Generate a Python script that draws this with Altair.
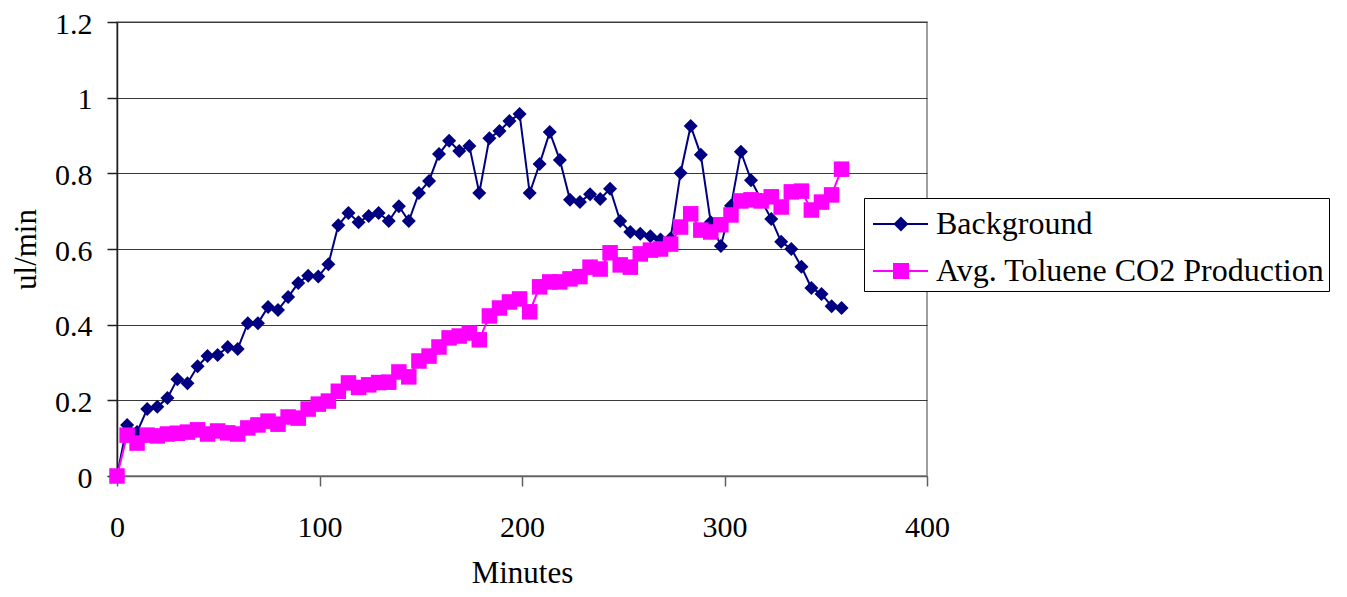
import altair as alt
import pandas as pd

# sampling times (minutes) and the two measured series (ul/min)
minutes = [
    0, 5.0, 9.9, 14.9, 19.9, 24.9, 29.8, 34.8, 39.8, 44.7,
    49.7, 54.7, 59.6, 64.6, 69.6, 74.6, 79.5, 84.5, 89.5, 94.4,
    99.4, 104.4, 109.3, 114.3, 119.3, 124.3, 129.2, 134.2, 139.2, 144.1,
    149.1, 154.1, 159.0, 164.0, 169.0, 174.0, 178.9, 183.9, 188.9, 193.8,
    198.8, 203.8, 208.7, 213.7, 218.7, 223.7, 228.6, 233.6, 238.6, 243.5,
    248.5, 253.5, 258.4, 263.4, 268.4, 273.4, 278.3, 283.3, 288.3, 293.2,
    298.2, 303.2, 308.1, 313.1, 318.1, 323.1, 328.0, 333.0, 338.0, 342.9,
    347.9, 352.9, 357.8,
]

background = [
    0, 0.135, 0.116, 0.177, 0.183, 0.206, 0.256, 0.245, 0.29, 0.317,
    0.32, 0.341, 0.336, 0.404, 0.404, 0.447, 0.439, 0.473, 0.51, 0.529,
    0.527, 0.56, 0.663, 0.695, 0.671, 0.687, 0.695, 0.674, 0.713, 0.674,
    0.748, 0.78, 0.851, 0.886, 0.859, 0.872, 0.748, 0.893, 0.912, 0.938,
    0.957, 0.748, 0.825, 0.909, 0.835, 0.73, 0.724, 0.745, 0.732, 0.759,
    0.674, 0.645, 0.64, 0.634, 0.625, 0.628, 0.801, 0.925, 0.849, 0.671,
    0.608, 0.714, 0.857, 0.782, 0.73, 0.679, 0.619, 0.6, 0.553, 0.497,
    0.481, 0.449, 0.444,
]

toluene = [
    0, 0.108, 0.087, 0.108, 0.106, 0.111, 0.113, 0.116, 0.122, 0.111,
    0.119, 0.114, 0.111, 0.127, 0.135, 0.145, 0.137, 0.156, 0.153, 0.177,
    0.19, 0.198, 0.224, 0.246, 0.234, 0.241, 0.247, 0.248, 0.275, 0.262,
    0.304, 0.317, 0.341, 0.365, 0.37, 0.378, 0.36, 0.423, 0.444, 0.46,
    0.468, 0.434, 0.5, 0.513, 0.513, 0.521, 0.527, 0.552, 0.547, 0.59,
    0.558, 0.552, 0.587, 0.597, 0.6, 0.613, 0.658, 0.693, 0.65, 0.645,
    0.664, 0.69, 0.727, 0.73, 0.727, 0.738, 0.711, 0.751, 0.753, 0.703,
    0.724, 0.743, 0.811,
]

series_names = ["Background", "Avg. Toluene CO2 Production"]
series_colors = ["#000080", "#FF00FF"]
series_shapes = ["diamond", "square"]
series_sizes = [196, 240]

x_ticks = [0, 100, 200, 300, 400]
y_ticks = [0, 0.2, 0.4, 0.6, 0.8, 1.0, 1.2]

FONT = "Liberation Serif, Times New Roman, serif"

df = pd.concat(
    [
        pd.DataFrame({"minutes": minutes, "value": background, "series": series_names[0]}),
        pd.DataFrame({"minutes": minutes, "value": toluene, "series": series_names[1]}),
    ],
    ignore_index=True,
)

# legend symbols: a short line with the series marker on it
# (unit = 21px, symbol centre sits 26px from the legend's left edge)
legend_paths = [
    "M-0.81,0L1.81,0M0.52,-0.29L0.81,0L0.52,0.29L0.23,0Z",
    "M-0.81,0L1.81,0M0.19,-0.33L0.86,-0.33L0.86,0.33L0.19,0.33Z",
]

legend = alt.Legend(
    title=None,
    orient="none",
    legendX=747,
    legendY=176,
    strokeColor="black",
    fillColor="white",
    padding=4,
    labelFont=FONT,
    labelFontSize=32,
    labelColor="black",
    labelOffset=24,
    labelLimit=0,
    labelExpr="datum.label + '  '",
    symbolSize=1764,
    symbolStrokeWidth=2,
    symbolOpacity=1,
    rowPadding=9,
)

x = alt.X(
    "minutes:Q",
    scale=alt.Scale(domain=[0, 400], nice=False),
    axis=alt.Axis(
        values=x_ticks,
        title="Minutes",
        grid=False,
        tickSize=10,
        labelPadding=26,
        labelFlush=False,
        titlePadding=16,
        domainColor="#606060",
        tickColor="#606060",
    ),
)
y = alt.Y(
    "value:Q",
    scale=alt.Scale(domain=[0, 1.2], nice=False),
    axis=alt.Axis(
        values=y_ticks,
        format="~g",
        title="ul/min",
        grid=True,
        gridColor="#3a3a3a",
        gridWidth=1,
        tickSize=10,
        labelPadding=15,
        labelFlush=False,
        labelOffset=2,
        titlePadding=12,
        domainColor="#202020",
        tickColor="#202020",
    ),
)

layers = []
for name, col, shp, sz in zip(series_names, series_colors, series_shapes, series_sizes):
    base = alt.Chart(df).transform_filter(alt.datum.series == name)
    layers.append(base.mark_line(strokeWidth=2, color=col).encode(x=x, y=y))
    layers.append(
        base.mark_point(filled=True, opacity=1, size=sz, shape=shp, color=col, strokeWidth=0)
        .encode(x=x, y=y)
    )

# legend-only layer (no data rows drawn)
legend_layer = (
    alt.Chart(df)
    .transform_filter(alt.datum.minutes < 0)
    .mark_point(filled=True)
    .encode(
        x=x,
        y=y,
        fill=alt.Fill("series:N", scale=alt.Scale(domain=series_names, range=series_colors), legend=legend),
        stroke=alt.Stroke("series:N", scale=alt.Scale(domain=series_names, range=series_colors), legend=legend),
        shape=alt.Shape("series:N", scale=alt.Scale(domain=series_names, range=legend_paths), legend=legend),
    )
)
layers.append(legend_layer)

chart = (
    alt.layer(*layers)
    .properties(
        width=810,
        height=454,
        autosize=alt.AutoSizeParams(type="none"),
        padding={"left": 109, "top": 14, "right": 412, "bottom": 113},
    )
    .configure_view(stroke="#808080", strokeWidth=1.5)
    .configure_axis(
        labelFont=FONT,
        labelFontSize=30,
        labelColor="black",
        titleFont=FONT,
        titleFontSize=31,
        titleColor="black",
        titleFontWeight="normal",
        domainWidth=1.5,
        tickWidth=1.5,
    )
)

chart.save("out.html", embed_options={"renderer": "svg", "actions": False})
